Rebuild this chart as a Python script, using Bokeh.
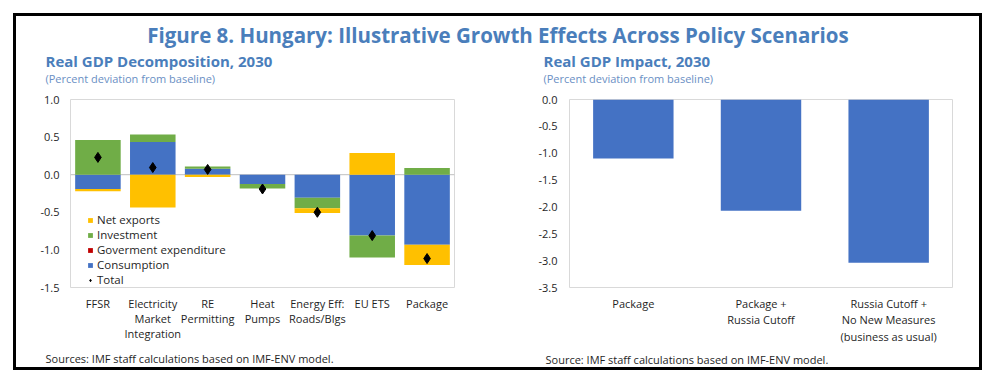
from bokeh.plotting import figure
from bokeh.models import (FactorRange, Range1d, FixedTicker, NumeralTickFormatter,
                          Legend, LegendItem, Span)
from bokeh.layouts import column, row
from bokeh.embed import file_html
from bokeh.resources import INLINE
from bokeh.core.properties import value
import numpy as np

FONT = "Open Sans"
TITLE_BLUE = "#4A7EBB"
SUB_BLUE = "#6A8FC4"
TEXT = "#1F1F1F"
FRAME = "#D9D9D9"

# ---------------- data ----------------
main_title = "Figure 8. Hungary: Illustrative Growth Effects Across Policy Scenarios"

left_title = "Real GDP Decomposition, 2030"
left_sub = "(Percent deviation from baseline)"
left_source = "Sources: IMF staff calculations based on IMF-ENV model."
decomp_categories = ["FFSR", "Electricity\nMarket\nIntegration", "RE\nPermitting",
                     "Heat\nPumps", "Energy Eff:\nRoads/Blgs", "EU ETS", "Package"]
consumption = [-0.19, 0.435, 0.08, -0.125, -0.305, -0.81, -0.93]
gov_expenditure = [0.0, 0.0, 0.0, 0.0, 0.0, 0.0, 0.0]
investment = [0.46, 0.10, 0.03, -0.06, -0.14, -0.29, 0.09]
net_exports = [-0.03, -0.435, -0.03, 0.0, -0.065, 0.29, -0.27]
total = [0.23, 0.095, 0.07, -0.19, -0.50, -0.81, -1.115]
left_ticks = [-1.5, -1.0, -0.5, 0.0, 0.5, 1.0]

right_title = "Real GDP Impact, 2030"
right_sub = "(Percent deviation from baseline)"
right_source = "Source: IMF staff calculations based on IMF-ENV model."
scenario_categories = ["Package", "Package +\nRussia Cutoff",
                       "Russia Cutoff +\nNo New Measures\n(business as usual)"]
gdp_impact = [-1.10, -2.07, -3.04]
right_ticks = [-3.5, -3.0, -2.5, -2.0, -1.5, -1.0, -0.5, 0.0]

series_names = ["Consumption", "Goverment expenditure", "Investment", "Net exports"]
series_colors = ["#4472C4", "#C00000", "#70AD47", "#FFC000"]

W_IN = 963
HEADER_H = 75
ROW_H = 258
FOOTER_H = 18
LEFT_W = 484
RIGHT_W = W_IN - LEFT_W


def text_panel(height):
    p = figure(width=W_IN, height=height, x_range=Range1d(0, W_IN), y_range=Range1d(0, height),
               x_axis_type=None, y_axis_type=None, toolbar_location=None,
               output_backend="svg", min_border=0, outline_line_color=None)
    p.grid.visible = False
    return p


# ---------------- header ----------------
header = text_panel(HEADER_H)
header.text(x=[W_IN / 2], y=[57], text=[main_title], text_align="center",
            text_baseline="middle", text_font=value(FONT), text_font_style="bold",
            text_font_size="20.5px", text_color=TITLE_BLUE)
header.text(x=[29, 527], y=[31, 31], text=[left_title, right_title], text_align="left",
            text_baseline="middle", text_font=value(FONT), text_font_style="bold",
            text_font_size="15px", text_color=TITLE_BLUE)
header.text(x=[29, 527], y=[13, 13], text=[left_sub, right_sub], text_align="left",
            text_baseline="middle", text_font=value(FONT),
            text_font_size="11px", text_color=SUB_BLUE)

# ---------------- footer ----------------
footer = text_panel(FOOTER_H)
footer.text(x=[29, 529], y=[9, 8], text=[left_source, right_source], text_align="left",
            text_baseline="middle", text_font=value(FONT),
            text_font_size="11px", text_color=TEXT)


def style_axes(p, x_standoff, y_standoff, line_h):
    for ax in (p.xaxis[0], p.yaxis[0]):
        ax.axis_line_color = None
        ax.major_tick_line_color = None
        ax.minor_tick_line_color = None
        ax.major_tick_out = 0
        ax.major_tick_in = 0
        ax.minor_tick_out = 0
        ax.major_label_text_font = FONT
        ax.major_label_text_font_size = "11px"
        ax.major_label_text_color = TEXT
    p.xaxis[0].major_label_standoff = x_standoff
    p.xaxis[0].major_label_text_line_height = line_h
    p.yaxis[0].major_label_standoff = y_standoff
    p.grid.visible = False


# ---------------- left chart ----------------
left = figure(width=LEFT_W, height=ROW_H, x_range=FactorRange(*decomp_categories),
              y_range=Range1d(-1.5, 1.0), toolbar_location=None, output_backend="svg",
              min_border_left=54, min_border_right=46, min_border_top=8, min_border_bottom=57,
              outline_line_color=FRAME, outline_line_width=1)
style_axes(left, 8, 11, 1.0)
left.yaxis[0].ticker = FixedTicker(ticks=left_ticks)
left.yaxis[0].formatter = NumeralTickFormatter(format="0.0")

left.add_layout(Span(location=0, dimension="width", line_color="#BFBFBF", line_width=1,
                     level="underlay"))

stack_vals = [consumption, gov_expenditure, investment, net_exports]
pos_base = np.zeros(len(decomp_categories))
neg_base = np.zeros(len(decomp_categories))
bar_renderers = {}
for name, vals, col in zip(series_names, stack_vals, series_colors):
    v = np.array(vals, dtype=float)
    bottom = np.where(v >= 0, pos_base, neg_base)
    top = bottom + v
    pos_base = np.where(v >= 0, top, pos_base)
    neg_base = np.where(v < 0, top, neg_base)
    r = left.vbar(x=decomp_categories, bottom=bottom, top=top, width=0.83,
                  fill_color=col, line_color=None)
    bar_renderers[name] = r

r_total = left.scatter(x=decomp_categories, y=total, marker="diamond", size=10,
                       fill_color="black", line_color="black")

legend = Legend(items=[
    LegendItem(label="Net exports", renderers=[bar_renderers["Net exports"]]),
    LegendItem(label="Investment", renderers=[bar_renderers["Investment"]]),
    LegendItem(label="Goverment expenditure", renderers=[bar_renderers["Goverment expenditure"]]),
    LegendItem(label="Consumption", renderers=[bar_renderers["Consumption"]]),
    LegendItem(label="Total", renderers=[r_total]),
], location=(17, 0), orientation="vertical")
legend.background_fill_alpha = 0
legend.border_line_color = None
legend.padding = 0
legend.margin = 0
legend.spacing = 0
legend.glyph_width = 6
legend.glyph_height = 6
legend.label_height = 15
legend.label_standoff = 4
legend.label_text_font = FONT
legend.label_text_font_size = "11.5px"
legend.label_text_color = TEXT
left.add_layout(legend)

# ---------------- right chart ----------------
right = figure(width=RIGHT_W, height=ROW_H, x_range=FactorRange(*scenario_categories),
               y_range=Range1d(-3.5, 0.0), toolbar_location=None, output_backend="svg",
               min_border_left=69, min_border_right=27, min_border_top=7, min_border_bottom=62,
               outline_line_color=FRAME, outline_line_width=1)
style_axes(right, 8, 12, 1.12)
right.yaxis[0].ticker = FixedTicker(ticks=right_ticks)
right.yaxis[0].formatter = NumeralTickFormatter(format="0.0")
right.vbar(x=scenario_categories, top=0, bottom=gdp_impact, width=0.63,
           fill_color="#4472C4", line_color=None)

layout = column(header, row(left, right), footer,
                styles={"border": "3px solid black", "transform": "translate(13px, 13px)"})

open("out.html", "w").write(file_html(layout, INLINE))
